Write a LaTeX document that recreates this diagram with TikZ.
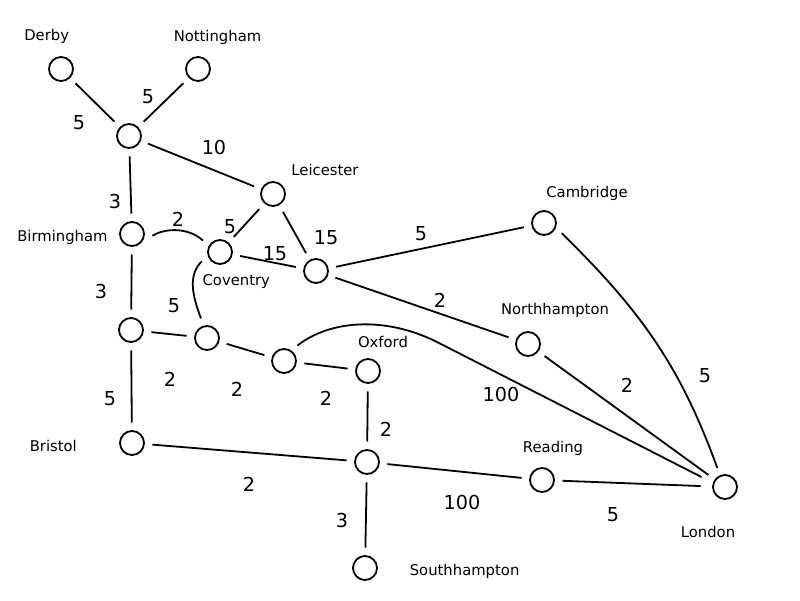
\documentclass[tikz,border=0pt]{standalone}
\usepackage{fontspec}
\newfontfamily\dejavu{DejaVu Sans}
\begin{document}
\begin{tikzpicture}[x=1pt,y=1pt,
  city/.style={circle, draw, line width=1.8pt, minimum size=24pt, inner sep=0pt, outer sep=8.5pt},
  conn/.style={line width=1.8pt},
  cityname/.style={anchor=base, inner sep=0pt, font=\dejavu\fontsize{14.8}{17}\selectfont},
  wt/.style={inner sep=0pt, font=\dejavu\fontsize{19.2}{22}\selectfont}]
\fill[white] (0,0) rectangle (800,600);
\useasboundingbox (0,0) rectangle (800,600);
% nodes
\node[city] (der) at (61,531) {};
\node[city] (not) at (198,531) {};
\node[city] (n1) at (129,464) {};
\node[city] (lei) at (273,406) {};
\node[city] (bir) at (132,366) {};
\node[city] (cov) at (220,348) {};
\node[city] (n15) at (316,329) {};
\node[city] (cam) at (544,377) {};
\node[city] (nb2) at (131,270) {};
\node[city] (ncv) at (207,262) {};
\node[city] (nox) at (284,239) {};
\node[city] (oxf) at (368,229) {};
\node[city] (nor) at (528,256) {};
\node[city] (bri) at (132,157) {};
\node[city] (cen) at (367,138) {};
\node[city] (rea) at (542,120) {};
\node[city] (lon) at (725,113) {};
\node[city] (sou) at (365,32) {};
% names
\node[cityname] (tder) at (46.7,559.5) {Derby};
\node[cityname] (tnot) at (217.5,558.5) {Nottingham};
\node[cityname] (tlei) at (325,424.3) {Leicester};
\node[cityname] (tbir) at (62.4,358.3) {Birmingham};
\node[cityname] (tcov) at (236.3,314) {Coventry};
\node[cityname] (tcam) at (587,402.5) {Cambridge};
\node[cityname] (tnor) at (555,285) {Northhampton};
\node[cityname] (toxf) at (383,252) {Oxford};
\node[cityname] (tbri) at (53.3,148.3) {Bristol};
\node[cityname] (trea) at (553,147.5) {Reading};
\node[cityname] (tlon) at (708,63) {London};
\node[cityname] (tsou) at (464.6,24.3) {Southhampton};
% edges
\draw[conn] (der) -- (n1);
\draw[conn] (not) -- (n1);
\draw[conn] (n1) -- (lei);
\draw[conn] (n1) -- (bir);
\draw[conn] (bir.-5) .. controls (165,372) and (188,373) .. (cov.146);
\draw[conn] (lei) -- (cov);
\draw[conn] (cov) -- (n15);
\draw[conn] (lei) -- (n15);
\draw[conn] (n15) -- (cam);
\draw[conn] (n15) -- (nor);
\draw[conn] (bir) -- (nb2);
\draw[conn] (cov.207) .. controls (188,325) and (192,305) .. (ncv.107);
\draw[conn] (nb2) -- (ncv);
\draw[conn] (ncv) -- (nox);
\draw[conn] (nox) -- (oxf);
\draw[conn, shorten >=5pt] (nox.49) .. controls (330,280) and (385,284) .. (437,258) -- (lon.158);
\draw[conn] (oxf) -- (cen);
\draw[conn] (nb2) -- (bri);
\draw[conn] (bri) -- (cen);
\draw[conn] (cen) -- (rea);
\draw[conn] (cen) -- (sou);
\draw[conn, shorten >=4pt] (rea) -- (lon);
\draw[conn] (nor) -- (lon);
\draw[conn] (cam.-30) .. controls (640,290) and (680,235) .. (lon.112);
% weights
\node[wt] (w1) at (79,477) {5};
\node[wt] (w2) at (148,503) {5};
\node[wt] (w3) at (214,452) {10};
\node[wt] (w4) at (115,398) {3};
\node[wt] (w5) at (178,381) {2};
\node[wt] (w6) at (230,373) {5};
\node[wt] (w7) at (275,346) {15};
\node[wt] (w8) at (326,362) {15};
\node[wt] (w9) at (421,366) {5};
\node[wt] (w10) at (440,300) {2};
\node[wt] (w11) at (101,308) {3};
\node[wt] (w12) at (174,294) {5};
\node[wt] (w13) at (170,221) {2};
\node[wt] (w14) at (237,211) {2};
\node[wt] (w15) at (326,202) {2};
\node[wt] (w16) at (501,205) {100};
\node[wt] (w17) at (386,171) {2};
\node[wt] (w18) at (110,201) {5};
\node[wt] (w19) at (249,116) {2};
\node[wt] (w20) at (462,97) {100};
\node[wt] (w21) at (342,79) {3};
\node[wt] (w22) at (613,85) {5};
\node[wt] (w23) at (627,215) {2};
\node[wt] (w24) at (705,224) {5};
\end{tikzpicture}
\end{document}
